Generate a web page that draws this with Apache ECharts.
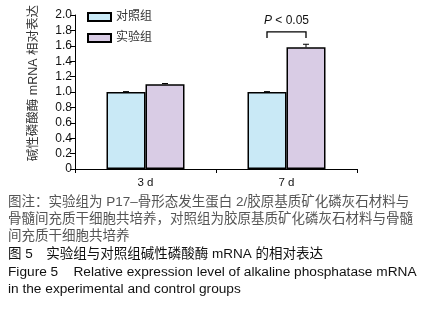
<!DOCTYPE html>
<html><head><meta charset="utf-8">
<script src="https://cdn.jsdelivr.net/npm/echarts@6/dist/echarts.min.js"></script>
<style>html,body{margin:0;padding:0;background:#fff}#c{width:423px;height:315px}</style>
</head><body><div id="c"></div>
<script>
const categories = ['3 d', '7 d'];
const controlValues = [1.00, 1.00];
const controlErrors = [0.005, 0.005];
const expValues = [1.10, 1.58];
const expErrors = [0.01, 0.04];
const yTicks = [0, 0.2, 0.4, 0.6, 0.8, 1.0, 1.2, 1.4, 1.6, 1.8, 2.0];
const seriesNames = ['对照组', '实验组'];
const yAxisName = '碱性磷酸酶 mRNA 相对表达';
const sigLabel = 'P < 0.05';
const sigBracket = { category: 1, top: 1.78, leg: 1.70 };
const captionLines = [
  '图注：实验组为 P17–骨形态发生蛋白 2/胶原基质矿化磷灰石材料与',
  '骨髓间充质干细胞共培养，对照组为胶原基质矿化磷灰石材料与骨髓',
  '间充质干细胞共培养'
];
const figureTitleCn = '图 5　实验组与对照组碱性磷酸酶 mRNA 的相对表达';
const figureTitleEn = ['Figure 5    Relative expression level of alkaline phosphatase mRNA', 'in the experimental and control groups'];

const BAR_W = 39;
const chart = echarts.init(document.getElementById('c'));
const font = '"Liberation Sans", Arial, sans-serif';
const cjk = '"Liberation Sans", "Noto Sans CJK SC", sans-serif';

function errSeries(vals, errs, offset) {
  return {
    type: 'custom', z: 5,
    data: vals.map((v, i) => [i, v, errs[i]]),
    renderItem: function (params, api) {
      const x = api.value(0), v = api.value(1), e = api.value(2);
      const p = api.coord([x, v]);
      const t = api.coord([x, v + e]);
      const cx = p[0] + offset;
      return { type: 'group', children: [
        { type: 'line', shape: { x1: cx, y1: p[1], x2: cx, y2: t[1] }, style: { stroke: '#000', lineWidth: 1 } },
        { type: 'line', shape: { x1: cx - 3, y1: t[1], x2: cx + 3, y2: t[1] }, style: { stroke: '#000', lineWidth: 1 } }
      ]};
    }
  };
}

function bracketSeries() {
  return {
    type: 'custom', z: 5,
    data: [[sigBracket.category, sigBracket.top, sigBracket.leg]],
    renderItem: function (params, api) {
      const x = api.value(0);
      const top = api.coord([x, api.value(1)]);
      const leg = api.coord([x, api.value(2)]);
      const x1 = top[0] - BAR_W / 2, x2 = top[0] + BAR_W / 2;
      return { type: 'group', children: [
        { type: 'polyline', shape: { points: [[x1, leg[1]], [x1, top[1]], [x2, top[1]], [x2, leg[1]]] }, style: { stroke: '#000', lineWidth: 1.3, fill: null } },
        { type: 'text', style: { x: top[0], y: top[1] - 11, text: '{i|P} < 0.05', align: 'center', verticalAlign: 'middle',
            font: '12px ' + font, fill: '#111',
            rich: { i: { fontStyle: 'italic', fontSize: 12, fontFamily: font } } } }
      ]};
    }
  };
}

const captionGraphics = [];
const cnY = [202, 219.3, 236.6];
captionLines.forEach((t, i) => captionGraphics.push({ type: 'text', style: { x: 8, y: cnY[i], verticalAlign: 'middle', text: t, font: '13.5px ' + cjk, fill: '#555' } }));
captionGraphics.push({ type: 'text', style: { x: 8, y: 254, verticalAlign: 'middle', text: figureTitleCn, font: '13.5px ' + cjk, fill: '#111' } });
const enY = [272, 289.5];
figureTitleEn.forEach((t, i) => captionGraphics.push({ type: 'text', style: { x: 8, y: enY[i], verticalAlign: 'middle', text: t, font: '13.7px ' + font, fill: '#111' } }));
captionGraphics.push({ type: 'text', left: 27, top: 5, style: { text: yAxisName, font: '12.5px ' + cjk, fill: '#333' }, rotation: Math.PI / 2, originX: 0, originY: 0 });

chart.setOption({
  animation: false,
  grid: { left: 75, right: 66, top: 15, bottom: 146 },
  legend: {
    orient: 'vertical', left: 87, top: 11, padding: 0, itemWidth: 23, itemHeight: 8, itemGap: 9,
    icon: 'rect', data: seriesNames,
    textStyle: { fontSize: 12, color: '#333', fontFamily: cjk }
  },
  xAxis: {
    type: 'category', data: categories,
    axisLine: { lineStyle: { color: '#000', width: 1 } },
    axisTick: { show: true, length: 4, lineStyle: { color: '#000' } },
    axisLabel: { fontSize: 11.5, color: '#111', fontFamily: font, margin: 8 }
  },
  yAxis: {
    type: 'value', min: 0, max: 2, interval: 0.2,
    axisLine: { show: true, lineStyle: { color: '#000', width: 1 } },
    axisTick: { show: true, length: 5, lineStyle: { color: '#000' } },
    splitLine: { show: false },
    axisLabel: { fontSize: 12, color: '#111', fontFamily: font, margin: 3,
      formatter: v => yTicks.indexOf(Math.round(v * 10) / 10) >= 0 ? (v === 0 ? '0' : v.toFixed(1)) : '' }
  },
  graphic: captionGraphics,
  series: [
    { name: seriesNames[0], type: 'bar', data: controlValues, barWidth: BAR_W, barGap: '0%',
      itemStyle: { color: '#c9e9f6', borderColor: '#000', borderWidth: 1.5 } },
    { name: seriesNames[1], type: 'bar', data: expValues, barWidth: BAR_W, barGap: '0%',
      itemStyle: { color: '#d9cce5', borderColor: '#000', borderWidth: 1.5 } },
    errSeries(controlValues, controlErrors, -BAR_W / 2),
    errSeries(expValues, expErrors, BAR_W / 2),
    bracketSeries()
  ]
});
</script></body></html>
